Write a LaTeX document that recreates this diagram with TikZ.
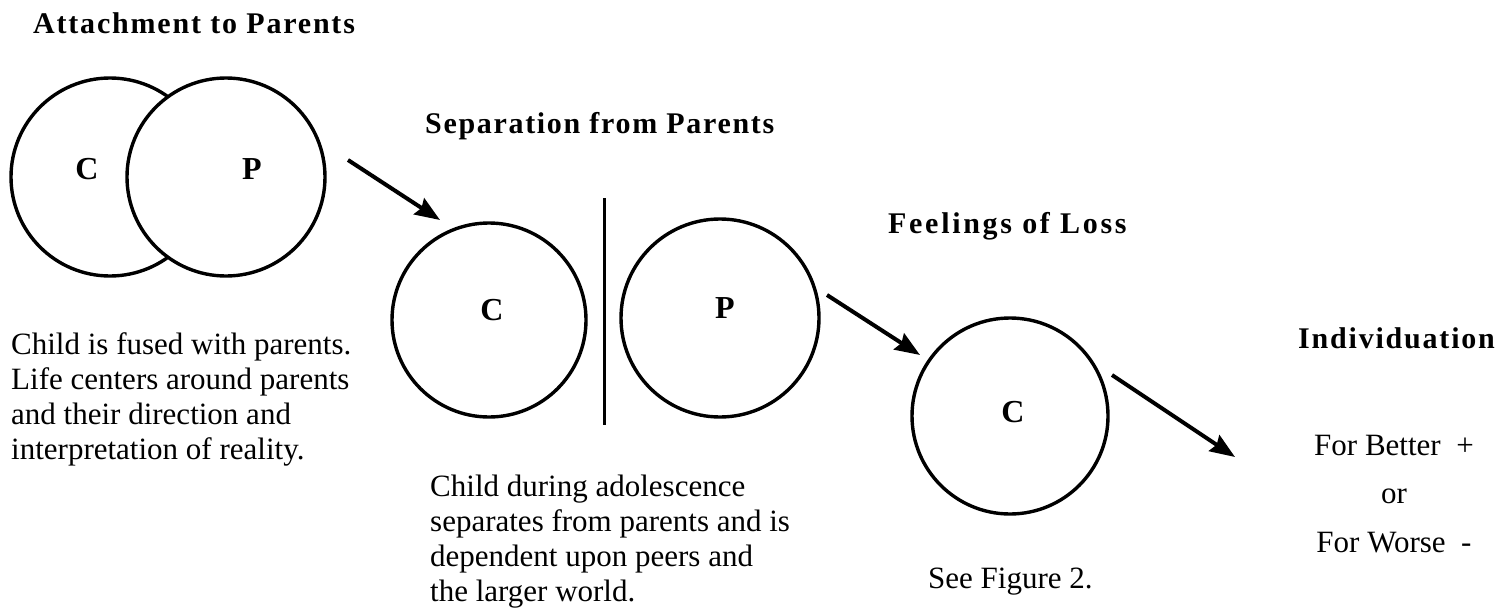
\documentclass[tikz,border=0pt]{standalone}
\usepackage{fontspec}
\setmainfont{Liberation Serif}
\usetikzlibrary{arrows.meta}
\begin{document}
\begin{tikzpicture}[x=1pt,y=-1pt,
  ring/.style={circle,draw,line width=3.4pt,minimum size=#1,inner sep=0pt},
  letter/.style={font=\fontsize{32}{36}\selectfont\bfseries,inner sep=0pt},
  heading/.style={anchor=base west,inner sep=0pt,font=\fontsize{30}{34}\selectfont\bfseries\addfontfeatures{LetterSpace=#1}},
  body/.style={anchor=north west,inner sep=0pt,align=left,font=\fontsize{31}{35}\selectfont},
  bodyline/.style={anchor=base,inner sep=0pt,font=\fontsize{31}{35}\selectfont},
  flow/.style={line width=4pt,-{Stealth[length=25pt,width=19pt,inset=3pt]}},
  divider/.style={line width=3pt}]
\useasboundingbox (0,0) rectangle (1498,613);
% titles
\node[heading=6] (t1) at (33,33) {Attachment to Parents};
\node[heading=5.6] (t2) at (425,133) {Separation from Parents};
\node[heading=9] (t3) at (888,233) {Feelings of Loss};
\node[heading=6] (t4) at (1298,348) {Individuation};
% attachment circles
\node[ring=198pt] (ac) at (110,177) {};
\node[ring=198pt,fill=white] (ap) at (226,177) {};
\node[letter] (acl) at (87,169) {C};
\node[letter] (apl) at (252,169) {P};
% separation circles
\node[ring=194pt] (sc) at (489,320) {};
\node[ring=198pt] (sp) at (720,318) {};
\node[letter] (scl) at (492,310) {C};
\node[letter] (spl) at (725,308) {P};
\coordinate (vtop) at (604,198);
\coordinate (vbot) at (604,425);
\draw[divider] (vtop) -- (vbot);
% loss circle
\node[ring=196pt] (lc) at (1010,416) {};
\node[letter] (lcl) at (1013,412) {C};
% arrows
\coordinate (a1s) at (348,160); \coordinate (a1e) at (440,220);
\coordinate (a2s) at (827,295); \coordinate (a2e) at (920,355);
\coordinate (a3s) at (1112,375); \coordinate (a3e) at (1235,457);
\draw[flow] (a1s) -- (a1e);
\draw[flow] (a2s) -- (a2e);
\draw[flow] (a3s) -- (a3e);
% body texts
\node[body] (b1) at (11,332) {Child is fused with parents.\\Life centers around parents\\and their direction and\\interpretation of reality.};
\node[body] (b2) at (430,475) {Child during adolescence\\separates from parents and is\\dependent upon peers and\\the larger world.};
\node[anchor=base west,inner sep=0pt,font=\fontsize{31}{35}\selectfont] (b3) at (928,588) {See Figure 2.};
\node[bodyline] (o1) at (1394,455) {For Better~ +};
\node[bodyline] (o2) at (1394,503) {or};
\node[bodyline] (o3) at (1394,552) {For Worse~ -};
\end{tikzpicture}
\end{document}
